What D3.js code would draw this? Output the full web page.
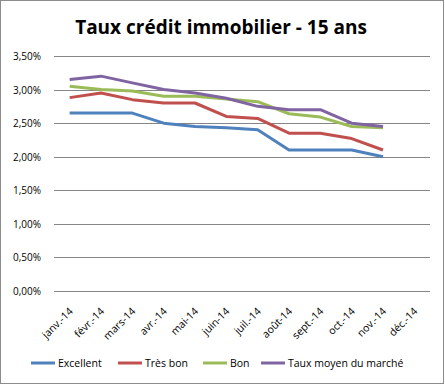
<!DOCTYPE html>
<html>
<head>
<meta charset="utf-8">
<script src="https://cdn.jsdelivr.net/npm/d3@7"></script>
<style>
  body { margin: 0; background: #fff; }
  svg { display: block; font-family: "Open Sans", "Liberation Sans", sans-serif; }
</style>
</head>
<body>
<svg id="chart"></svg>
<script>
const months = ["janv.-14", "févr.-14", "mars-14", "avr.-14", "mai-14", "juin-14",
                "juil.-14", "août-14", "sept.-14", "oct.-14", "nov.-14", "déc.-14"];
const excellent = [2.65, 2.65, 2.65, 2.50, 2.45, 2.43, 2.40, 2.10, 2.10, 2.10, 2.00];
const tresBon   = [2.88, 2.95, 2.85, 2.80, 2.80, 2.60, 2.57, 2.35, 2.35, 2.27, 2.10];
const bon       = [3.05, 3.00, 2.98, 2.90, 2.90, 2.86, 2.82, 2.64, 2.59, 2.45, 2.43];
const moyen     = [3.15, 3.20, 3.10, 3.00, 2.95, 2.87, 2.75, 2.70, 2.70, 2.50, 2.45];
const seriesNames = ["Excellent", "Très bon", "Bon", "Taux moyen du marché"];
const yTicks = [0, 0.5, 1, 1.5, 2, 2.5, 3, 3.5];

const colors = ["#4F81BD", "#C0504D", "#9BBB59", "#8064A2"];
const seriesValues = [excellent, tresBon, bon, moyen];

const width = 445, height = 385;
const svg = d3.select("#chart").attr("width", width).attr("height", height);

svg.append("rect")
    .attr("x", 0.5).attr("y", 0.5)
    .attr("width", width - 2).attr("height", height - 2)
    .attr("fill", "#fff").attr("stroke", "#8c8c8c");

svg.append("text")
    .attr("x", 221).attr("y", 34)
    .attr("text-anchor", "middle")
    .attr("font-size", 19).attr("font-weight", "bold")
    .text("Taux crédit immobilier - 15 ans");

const x = d3.scaleBand().domain(months).range([54, 430]);
const y = d3.scaleLinear().domain([0, 3.5]).range([291, 56]);

// grid lines
svg.append("g")
    .selectAll("line")
    .data(yTicks)
    .enter()
    .append("line")
    .attr("x1", 54).attr("x2", 430)
    .attr("y1", d => Math.round(y(d)) + 0.5)
    .attr("y2", d => Math.round(y(d)) + 0.5)
    .attr("stroke", "#868686");

svg.append("g")
    .selectAll("text")
    .data(yTicks)
    .enter()
    .append("text")
    .attr("x", 41)
    .attr("y", d => y(d) + 4)
    .attr("text-anchor", "end")
    .attr("font-size", 10)
    .text(d => d3.format(".2f")(d).replace(".", ",") + "%");

svg.append("g")
    .selectAll("text")
    .data(months)
    .enter()
    .append("text")
    .attr("transform", d => `translate(${x(d) + x.bandwidth() / 2 + 4},${312}) rotate(-45)`)
    .attr("text-anchor", "end")
    .attr("font-size", 10.5)
    .text(d => d);

const line = d3.line()
    .x((d, i) => x(months[i]) + x.bandwidth() / 2)
    .y(d => y(d));

svg.append("g")
    .selectAll("path")
    .data(seriesValues)
    .enter()
    .append("path")
    .attr("d", d => line(d))
    .attr("fill", "none")
    .attr("stroke", (d, i) => colors[i])
    .attr("stroke-width", 3)
    .attr("stroke-linejoin", "round");

// legend
const legendX = [31, 118, 203, 261];
const legend = svg.append("g")
    .selectAll("g")
    .data(seriesNames)
    .enter()
    .append("g")
    .attr("transform", (d, i) => `translate(${legendX[i]},363)`);

legend.append("line")
    .attr("x1", 0).attr("x2", 24)
    .attr("stroke", (d, i) => colors[i])
    .attr("stroke-width", 3);

legend.append("text")
    .attr("x", 27).attr("y", 4)
    .attr("font-size", 10.5)
    .text(d => d);
</script>
</body>
</html>
